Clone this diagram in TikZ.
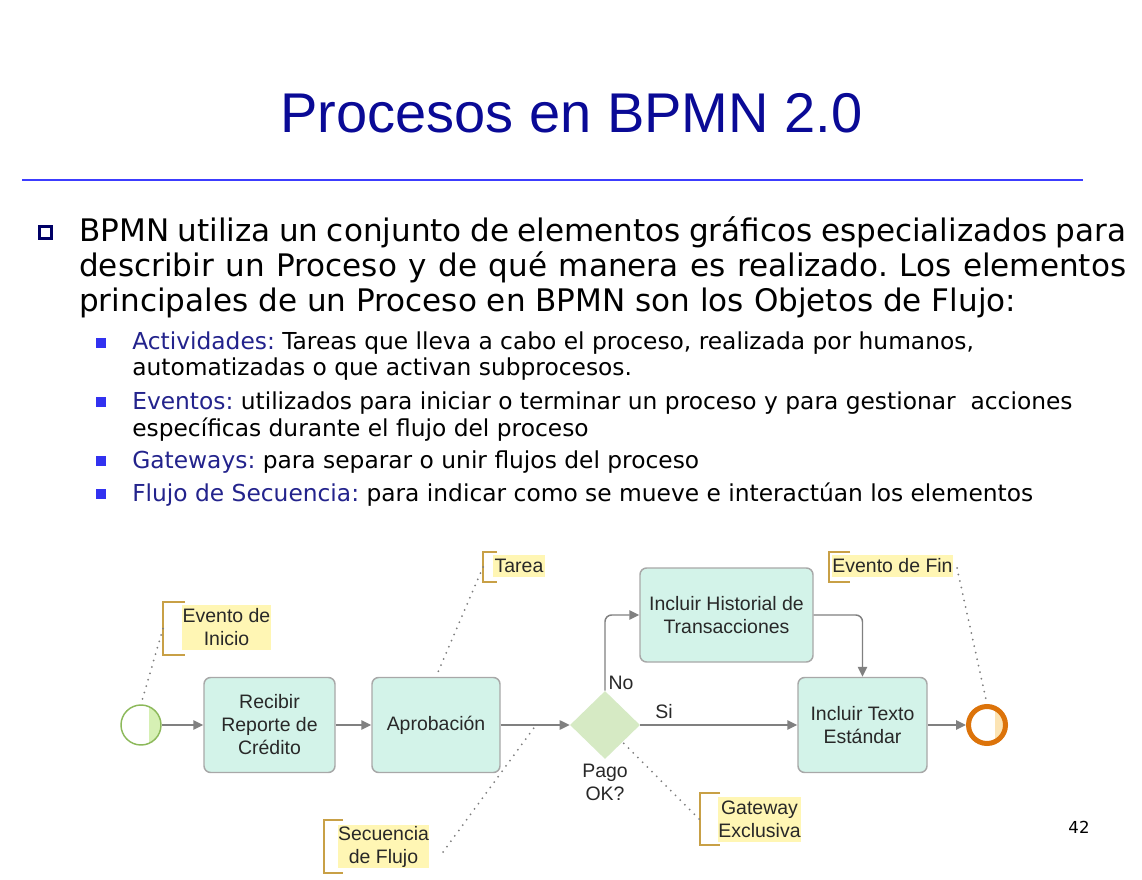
\documentclass[tikz,border=0pt]{standalone}
\usepackage{fontspec}
\setmainfont{DejaVu Sans}
\newfontfamily\arialf{Liberation Sans}
\usetikzlibrary{arrows.meta,shapes.geometric}
\frenchspacing

\definecolor{titleblue}{RGB}{10,10,150}
\definecolor{rulecol}{RGB}{60,60,255}
\definecolor{bulletnavy}{RGB}{0,0,102}
\definecolor{bulletblue}{RGB}{50,50,240}
\definecolor{termblue}{RGB}{35,35,140}
\definecolor{taskfill}{RGB}{211,243,233}
\definecolor{taskdraw}{RGB}{168,168,168}
\definecolor{gwfill}{RGB}{214,234,196}
\definecolor{flowgray}{RGB}{128,128,128}
\definecolor{dotgray}{RGB}{125,125,125}
\definecolor{startgreen}{RGB}{140,185,90}
\definecolor{startlight}{RGB}{214,240,180}
\definecolor{endorange}{RGB}{220,115,10}
\definecolor{endlight}{RGB}{252,228,180}
\definecolor{annyellow}{RGB}{255,246,180}
\definecolor{brkgold}{RGB}{200,160,70}
\definecolor{diagtext}{RGB}{40,40,40}

\newcommand\dgfont{\arialf\fontsize{14.6pt}{17.25pt}\selectfont}
\newcommand\bodyfont{\fontsize{23.3pt}{27pt}\selectfont}
\newcommand\subfont{\fontsize{17.5pt}{20.5pt}\selectfont}

\begin{document}
\begin{tikzpicture}[x=0.75pt,y=-0.75pt,
  body/.style={anchor=base west, inner sep=0pt, font=\bodyfont},
  subitem/.style={anchor=base west, inner sep=0pt, font=\subfont},
  task/.style={draw=taskdraw, fill=taskfill, line width=1.1pt, rounded corners=5pt,
    align=center, font=\dgfont, text=diagtext, inner sep=0pt},
  flow/.style={draw=flowgray, line width=1.1pt, -{Triangle[length=7.5pt,width=7pt]}},
  dotln/.style={draw=dotgray, line width=1.5pt, dash pattern=on 0pt off 5pt, line cap=round},
  ann/.style={fill=annyellow, inner sep=0pt, align=center, font=\dgfont, text=diagtext},
  brk/.style={draw=brkgold, line width=1.6pt},
  lbl/.style={inner sep=0pt, align=center, font=\dgfont, text=diagtext}]

\fill[white] (0,0) rectangle (1142,880);
\useasboundingbox (0,0) rectangle (1142,880);

% heading and rule
\node[anchor=base, inner sep=0pt, text=titleblue,
  font=\arialf\fontsize{42pt}{50pt}\selectfont] (title) at (571.5,133) {Procesos en BPMN 2.0};
\draw[rulecol, line width=1.9pt] (22,180) -- (1083,180);

% main bullet
\draw[bulletnavy, line width=2.25pt] (39.5,226.5) rectangle (51.5,238.5);
\node[body] (l1) at (79,242) {\makebox[785.25pt][s]{BPMN utiliza un conjunto de elementos gráficos especializados para}};
\node[body] (l2) at (79,277) {\makebox[785.25pt][s]{describir un Proceso y de qué manera es realizado. Los elementos}};
\node[body] (l3) at (79,312) {principales de un Proceso en BPMN son los Objetos de Flujo:};

% sub bullets
\fill[bulletblue] (96,338) rectangle (106,348);
\fill[bulletblue] (96,397) rectangle (106,407);
\fill[bulletblue] (96,456) rectangle (106,466);
\fill[bulletblue] (96,489) rectangle (106,499);
\node[subitem] (s1) at (132,350) {\textcolor{termblue}{Actividades:} Tareas que lleva a cabo el proceso, realizada por humanos,};
\node[subitem] (s1b) at (132,376) {automatizadas o que activan subprocesos.};
\node[subitem] (s2) at (132,409) {\textcolor{termblue}{Eventos:} utilizados para iniciar o terminar un proceso y para gestionar~ acciones};
\node[subitem] (s2b) at (132,436) {específicas durante el flujo del proceso};
\node[subitem] (s3) at (132,468) {\textcolor{termblue}{Gateways:} para separar o unir flujos del proceso};
\node[subitem] (s4) at (132,501) {\textcolor{termblue}{Flujo de Secuencia:} para indicar como se mueve e interactúan los elementos};

% page number
\node[anchor=base, inner sep=0pt, font=\fontsize{12.4pt}{14pt}\selectfont] (pnum) at (1079,833) {42};

% ---- BPMN process ----
\node[circle, draw=startgreen, fill=white, line width=1.1pt, minimum size=30pt, inner sep=0pt,
  path picture={\fill[startlight] ([xshift=6pt]path picture bounding box.north) rectangle (path picture bounding box.south east);}]
  (start) at (141,725) {};
\node[task, minimum width=98.25pt, minimum height=71.25pt] (recibir) at (269.5,725) {Recibir\\Reporte de\\Crédito};
\node[task, minimum width=96pt, minimum height=71.25pt] (aprob) at (436,725) {Aprobación};
\node[diamond, fill=gwfill, minimum width=52.5pt, minimum height=51pt, inner sep=0pt] (gw) at (605,725) {};
\node[task, minimum width=129.75pt, minimum height=70.5pt] (hist) at (726.5,615) {Incluir Historial de\\Transacciones};
\node[task, minimum width=96.75pt, minimum height=71.25pt] (texto) at (862.5,725) {Incluir Texto\\Estándar};
\node[circle, draw=endorange, fill=white, line width=3.75pt, minimum size=27.75pt, inner sep=0pt,
  path picture={\fill[endlight] ([xshift=6pt]path picture bounding box.north) rectangle (path picture bounding box.south east);}]
  (end) at (987,725) {};

\node[lbl] (no) at (621,683) {No};
\node[lbl] (si) at (664,712) {Si};
\node[lbl, anchor=north] (pago) at (605,764) {Pago\\OK?};

\draw[flow] (start) -- (recibir);
\draw[flow] (recibir) -- (aprob);
\draw[flow] (aprob) -- (gw);
\draw[flow, rounded corners=5pt] (gw.north) |- (hist.west);
\draw[flow] (gw.east) -- (texto.west);
\draw[flow, rounded corners=5pt] (hist.east) -| (texto.north);
\draw[flow] (texto) -- (end);

% annotations
\node[ann, minimum width=66.75pt, minimum height=33.75pt] (annStart) at (226.5,627.5) {Evento de\\Inicio};
\node[ann, minimum width=39pt, minimum height=16.5pt] (annTask) at (519,566) {Tarea};
\node[ann, minimum width=90.75pt, minimum height=16.5pt] (annFin) at (892.5,566) {Evento de Fin};
\node[ann, minimum width=62.25pt, minimum height=33.75pt] (annGw) at (759.5,819.5) {Gateway\\Exclusiva};
\node[ann, minimum width=68.25pt, minimum height=32.25pt] (annSeq) at (383.5,846.5) {Secuencia\\de Flujo};

\draw[brk] (185,602) -| (163,655) -- (185,655);
\draw[brk] (497,552) -| (483,582) -- (497,582);
\draw[brk] (850,552) -| (829,582) -- (850,582);
\draw[brk] (720,793) -| (700,845) -- (720,845);
\draw[brk] (343,820) -| (324,873) -- (343,873);

\coordinate (bStart) at (163,628.5);
\coordinate (bTask) at (483,567);
\coordinate (bGw) at (699,819);
\coordinate (bSeq) at (443,852);
\coordinate (bFin) at (957,568);
\coordinate (seqpt) at (536,725);

\draw[dotln] (bStart) -- (start.north);
\draw[dotln] (bTask) -- (aprob.north);
\draw[dotln] (bSeq) -- (seqpt);
\draw[dotln] (bGw) -- (gw.south east);
\draw[dotln] (bFin) -- (end.north);
\end{tikzpicture}
\end{document}
